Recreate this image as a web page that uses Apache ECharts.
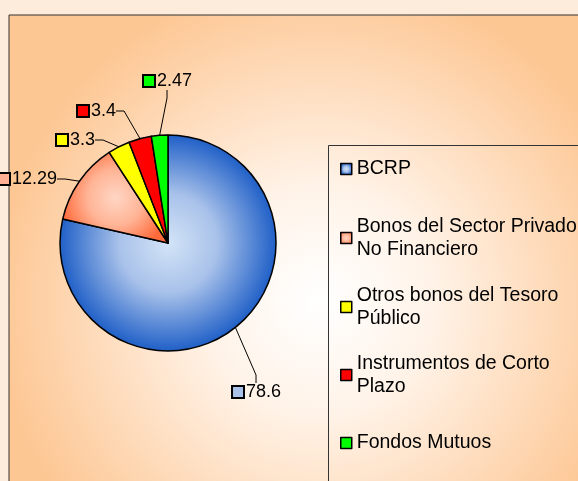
<!DOCTYPE html>
<html>
<head>
<meta charset="utf-8">
<script src="https://cdn.jsdelivr.net/npm/echarts@6/dist/echarts.min.js"></script>
<style>
  html, body { margin: 0; padding: 0; background: #fdecdb; }
  #chart { width: 578px; height: 481px; }
</style>
</head>
<body>
<div id="chart"></div>
<script>
  // categorias y valores (%)
  var categorias = ['BCRP', 'Bonos del Sector Privado\nNo Financiero', 'Otros bonos del Tesoro\nPúblico', 'Instrumentos de Corto\nPlazo', 'Fondos Mutuos']
  var valores = [78.6, 12.29, 3.3, 3.4, 2.47]

  // estilos
  var fuente = '"Liberation Sans", Arial, sans-serif'
  var colores = [
    { type: 'radial', x: 0.5, y: 0.5, r: 0.5, colorStops: [{ offset: 0, color: '#d3e4f7' }, { offset: 0.45, color: '#a9c2ea' }, { offset: 1, color: '#1f5fc7' }] },
    { type: 'radial', x: 0.5, y: 0.5, r: 0.6, colorStops: [{ offset: 0, color: '#ffd6c4' }, { offset: 0.5, color: '#ffb496' }, { offset: 1, color: '#ff6a3a' }] },
    '#ffff00', '#ff0000', '#00ff00'
  ]
  var coloresCuadro = ['#a8c2ea', '#ffb094', '#ffff00', '#ff0000', '#00ff00']
  // posicion de etiquetas (x izquierda, y centro)
  var posEtiquetas = [[233, 392], [-1, 179], [57, 140], [78, 111], [144, 81]]
  // posicion vertical de leyendas (centro de primera linea)
  var posLeyendas = [169, 238, 307, 375, 443]
  var altoLinea = 23

  var myChart = echarts.init(document.getElementById('chart'))

  var rich = { v: { fontSize: 18, fontFamily: fuente, color: '#000', padding: [0, 0, 0, 3] } }
  coloresCuadro.forEach(function (c, i) {
    rich['sq' + i] = { width: 10, height: 10, backgroundColor: c, borderColor: '#000', borderWidth: 2 }
  })

  var legendas = categorias.map(function (name, i) {
    var dosLineas = name.indexOf('\n') >= 0
    return {
      orient: 'vertical',
      left: 340,
      top: dosLineas ? posLeyendas[i] - altoLinea * 1.5 : posLeyendas[i] - altoLinea / 2,
      padding: 0,
      icon: 'rect',
      itemWidth: 11,
      itemHeight: 11,
      itemStyle: { borderColor: '#000', borderWidth: 1.5 },
      textStyle: {
        fontSize: 19.5, fontFamily: fuente, color: '#000', lineHeight: altoLinea,
        padding: dosLineas ? [altoLinea, 0, 0, 0] : 0
      },
      data: [name]
    }
  })

  var option = {
    animation: false,
    graphic: [
      {
        type: 'rect', z: -10, silent: true,
        shape: { x: 9, y: 15, width: 620, height: 520 },
        style: {
          stroke: '#333', lineWidth: 1,
          fill: { type: 'radial', x: 0.5, y: 0.55, r: 0.62, colorStops: [{ offset: 0, color: '#ffffff' }, { offset: 0.35, color: '#fff3e8' }, { offset: 1, color: '#fdc794' }] }
        }
      },
      {
        type: 'rect', z: -5, silent: true,
        shape: { x: 328.5, y: 145.5, width: 300, height: 400 },
        style: { stroke: '#333', lineWidth: 1, fill: 'transparent' }
      }
    ],
    legend: legendas,
    series: [{
      type: 'pie',
      center: [168, 243],
      radius: 108,
      startAngle: 90,
      clockwise: true,
      itemStyle: { borderColor: '#000', borderWidth: 1.5 },
      label: {
        show: true,
        overflow: 'none',
        edgeDistance: 0,
        bleedMargin: 0,
        formatter: function (p) { return '{sq' + p.dataIndex + '|}{v|' + p.value + '}' },
        rich: rich
      },
      labelLine: { show: true, length: 12, length2: 8, lineStyle: { color: '#000', width: 1 } },
      labelLayout: function (p) {
        var pos = posEtiquetas[p.dataIndex]
        return { x: pos[0], y: pos[1], align: 'left', verticalAlign: 'middle' }
      },
      emphasis: { disabled: true },
      data: categorias.map(function (name, i) {
        return { name: name, value: valores[i], itemStyle: { color: colores[i] } }
      })
    }]
  }

  myChart.setOption(option)
</script>
</body>
</html>
